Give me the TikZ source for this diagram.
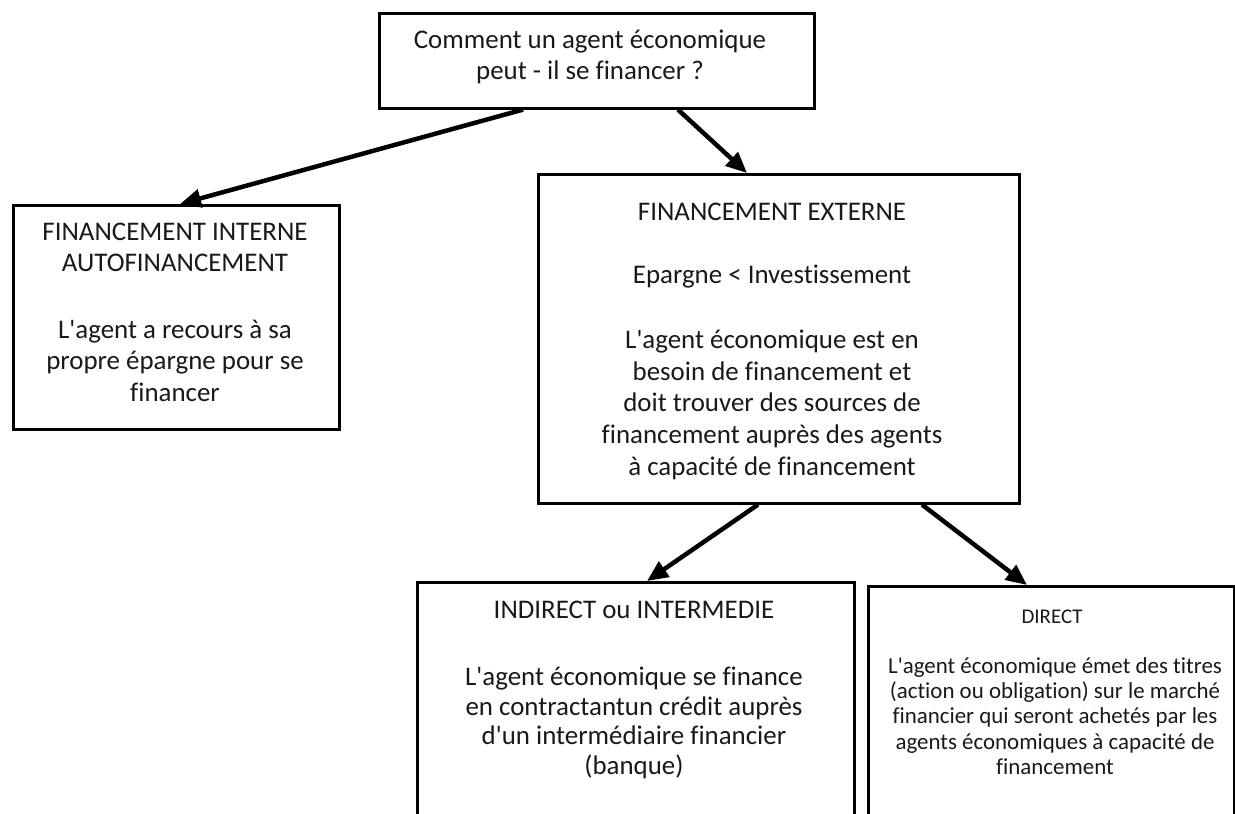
\documentclass[tikz,border=0pt]{standalone}
\usepackage{fontspec}
\setmainfont{Carlito}[Ligatures={NoCommon}]
\usetikzlibrary{arrows.meta,calc}
\newcommand{\ap}{\textquotesingle}
\tikzset{
  box/.style={draw=black, line width=2.6bp, rectangle, inner sep=0pt, anchor=north west},
  txt/.style={align=center, inner sep=0pt, anchor=north, text=black!90},
  big/.style={font=\fontsize{27}{32}\selectfont},
  bigtight/.style={font=\fontsize{27}{30}\selectfont},
  small/.style={font=\fontsize{23}{25.5}\selectfont},
  tiny/.style={font=\fontsize{21}{24}\selectfont},
  conn/.style={line width=4.5bp, -{Triangle[length=21bp,width=18bp]}}
}
\begin{document}
\begin{tikzpicture}[x=1bp,y=-1bp]
\useasboundingbox (0,0) rectangle (1235,814);
\clip (0,0) rectangle (1235,814);
\fill[white] (0,0) rectangle (1235,814);
% boxes
\node[box, minimum width=435bp, minimum height=95bp] (q) at (378,12) {};
\node[box, minimum width=326bp, minimum height=224bp] (int) at (12,204) {};
\node[box, minimum width=481bp, minimum height=329bp] (ext) at (537,173) {};
\node[box, minimum width=437bp, minimum height=260bp] (ind) at (416,581) {};
\node[box, minimum width=366bp, minimum height=260bp] (dir) at (867,585) {};
% texts (north = first baseline - 0.7 baselineskip)
\node[txt, big] (qt) at (590,25.6) {\strut Comment un agent économique\\peut - il se financer ?};
\node[txt, big] (intt) at (175,217.6) {\strut FINANCEMENT INTERNE\\AUTOFINANCEMENT};
\node[txt, big] (intb) at (175,315.6) {\strut L\ap agent a recours à sa\\propre épargne pour se\\financer};
\node[txt, big] (extt) at (772,197.6) {\strut FINANCEMENT EXTERNE};
\node[txt, big] (exte) at (772,260.6) {\strut Epargne < Investissement};
\node[txt, big] (extb) at (772,325.6) {\strut L\ap agent économique est en\\besoin de financement et\\doit trouver des sources de\\financement auprès des agents\\à capacité de financement};
\node[txt, big] (indt) at (634,595.6) {\strut INDIRECT ou INTERMEDIE};
\node[txt, bigtight] (indb) at (634,664) {\strut L\ap agent économique se finance\\en contractantun crédit auprès\\d\ap un intermédiaire financier\\(banque)};
\node[txt, tiny] (dirt) at (1052,606.2) {\strut DIRECT};
\node[txt, small] (dirb) at (1055,655.15) {\strut L\ap agent économique émet des titres\\(action ou obligation) sur le marché\\financier qui seront achetés par les\\agents économiques à capacité de\\financement};
% connectors
\draw[conn] ([xshift=145bp]q.south west) -- ([xshift=168bp]int.north west);
\draw[conn] ([xshift=300bp]q.south west) -- ([xshift=210bp]ext.north west);
\draw[conn] ([xshift=221bp]ext.south west) -- ([xshift=231bp]ind.north west);
\draw[conn] ([xshift=385bp]ext.south west) -- ([xshift=160bp]dir.north west);
\end{tikzpicture}
\end{document}
